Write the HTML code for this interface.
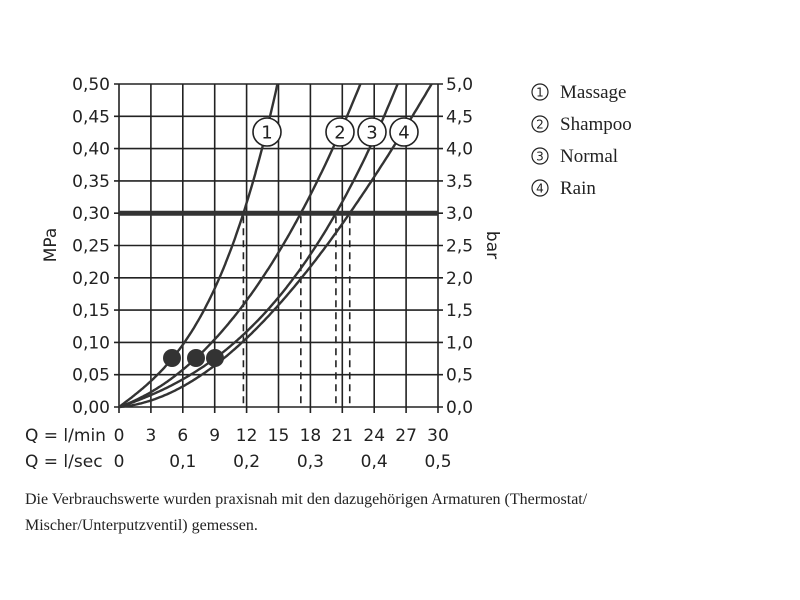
<!DOCTYPE html>
<html><head><meta charset="utf-8"><style>
html,body{margin:0;padding:0;background:#fff;width:800px;height:600px;overflow:hidden}
svg{display:block}
</style></head><body>
<svg id="s" width="800" height="600" xmlns="http://www.w3.org/2000/svg" font-family="'DejaVu Sans','Liberation Sans',sans-serif">
</svg>
<script>
var s=document.getElementById('s'),h='';
var X0=119,X1=438,Y0=407,Y1=84;
function X(q){return X0+(X1-X0)*q/30}
function Y(p){return Y0-(Y0-Y1)*p/0.5}
for(var i=0;i<=10;i++){var x=X(i*3);h+='<line x1="'+x+'" y1="'+Y1+'" x2="'+x+'" y2="'+(Y0+6)+'" stroke="#222" stroke-width="1.6"/>';}
for(var j=0;j<=10;j++){var y=Y(j*0.05);h+='<line x1="'+(X0-5)+'" y1="'+y+'" x2="'+(X1+5)+'" y2="'+y+'" stroke="#222" stroke-width="1.6"/>';}
h+='<line x1="'+X0+'" y1="'+Y(0.3)+'" x2="'+X1+'" y2="'+Y(0.3)+'" stroke="#333" stroke-width="5"/>';
[11.7,17.1,20.4,21.7].forEach(function(q){h+='<line x1="'+X(q)+'" y1="'+(Y(0.3)+3)+'" x2="'+X(q)+'" y2="'+Y0+'" stroke="#222" stroke-width="1.6" stroke-dasharray="7,5"/>';});
function solve(P){// p=aQ+bQ^2+cQ^3
 var M=P.map(function(t){return [t[0],t[0]*t[0],t[0]*t[0]*t[0],t[1]]});
 for(var i=0;i<3;i++){for(var k=i+1;k<3;k++){var f=M[k][i]/M[i][i];for(var j=i;j<4;j++)M[k][j]-=f*M[i][j];}}
 var r=[0,0,0];for(var i=2;i>=0;i--){var v=M[i][3];for(var j=i+1;j<3;j++)v-=M[i][j]*r[j];r[i]=v/M[i][i];}return r;}
var c=[[[5.0,0.075],[11.7,0.3],[14.9,0.5]],[[7.2,0.075],[17.1,0.3],[22.7,0.5]],[[9.0,0.075],[20.4,0.3],[26.2,0.5]],[[9.6,0.072],[21.7,0.3],[29.4,0.5]]];
c.forEach(function(P){var a=solve(P);var d='M'+X0+','+Y0;var qm=P[2][0];for(var k=1;k<=200;k++){var q=qm*k/200;var p=a[0]*q+a[1]*q*q+a[2]*q*q*q;d+=' L'+X(q).toFixed(1)+','+Y(p).toFixed(1);}h+='<path d="'+d+'" fill="none" stroke="#333" stroke-width="2.4"/>';});
[172,196,215].forEach(function(x){h+='<circle cx="'+x+'" cy="358" r="9" fill="#333"/>';});
[[267,'1'],[340,'2'],[372,'3'],[404,'4']].forEach(function(a){h+='<circle cx="'+a[0]+'" cy="132" r="14" fill="#fff" stroke="#222" stroke-width="1.6"/><text x="'+a[0]+'" y="138.5" font-size="18" text-anchor="middle" fill="#222">'+a[1]+'</text>';});
for(var j=0;j<=10;j++){var y=Y(j*0.05)+6;var l=(j*0.05).toFixed(2).replace('.',',');var r=(j*0.5).toFixed(1).replace('.',',');
h+='<text x="110" y="'+y+'" font-size="17" text-anchor="end" fill="#222">'+l+'</text>';
h+='<text x="446" y="'+y+'" font-size="17" fill="#222">'+r+'</text>';}
h+='<text transform="translate(56,245) rotate(-90)" font-size="17" text-anchor="middle" fill="#222">MPa</text>';
h+='<text transform="translate(487,245) rotate(90)" font-size="17" text-anchor="middle" fill="#222">bar</text>';
h+='<text x="25" y="441" font-size="17" fill="#222">Q = l/min</text>';
for(var i=0;i<=10;i++){h+='<text x="'+X(i*3)+'" y="441" font-size="17" text-anchor="middle" fill="#222">'+(i*3)+'</text>';}
h+='<text x="25" y="467" font-size="17" fill="#222">Q = l/sec</text>';
for(var i=0;i<=5;i++){h+='<text x="'+X(i*6)+'" y="467" font-size="17" text-anchor="middle" fill="#222">'+(i==0?'0':'0,'+i)+'</text>';}
var L=['Massage','Shampoo','Normal','Rain'];
L.forEach(function(t,i){var y=98+i*32;h+='<circle cx="540" cy="'+(y-6)+'" r="8" fill="none" stroke="#222" stroke-width="1.2"/><text x="540" y="'+(y-1.5)+'" font-size="12" text-anchor="middle" fill="#222">'+(i+1)+'</text><text x="560" y="'+y+'" font-family="\'Liberation Serif\',serif" font-size="19" fill="#222">'+t+'</text>';});
h+='<text x="25" y="504" font-family="\'Liberation Serif\',serif" font-size="16" fill="#222">Die Verbrauchswerte wurden praxisnah mit den dazugehörigen Armaturen (Thermostat/</text>';
h+='<text x="25" y="530" font-family="\'Liberation Serif\',serif" font-size="16" fill="#222">Mischer/Unterputzventil) gemessen.</text>';
s.innerHTML=h;
</script>
</body></html>
